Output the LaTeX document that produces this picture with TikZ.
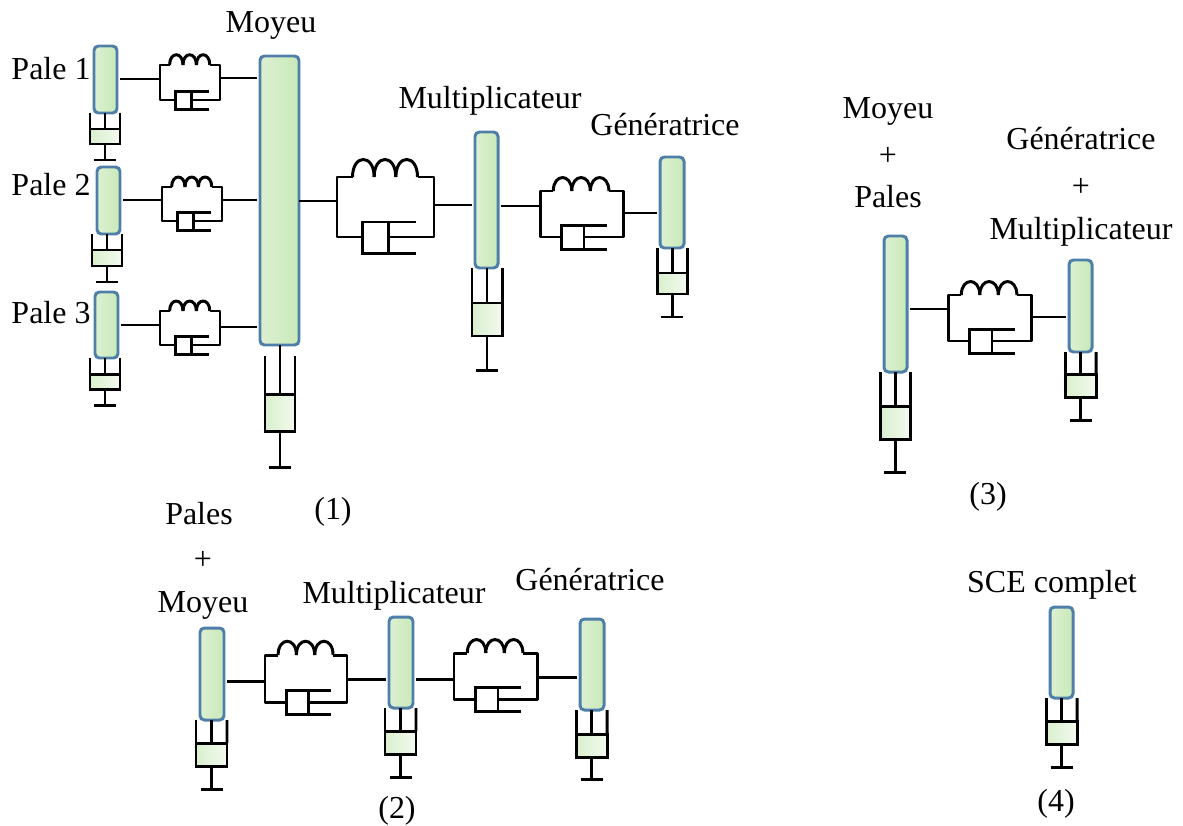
\documentclass[tikz,border=0pt]{standalone}
\usepackage{fontspec}
\setmainfont{Liberation Serif}
\usetikzlibrary{calc}

\definecolor{inertiaBlue}{HTML}{4F7FA8}
\definecolor{greenDark}{HTML}{C9E9B8}
\definecolor{greenMid}{HTML}{EDF7E7}
\definecolor{greenPale}{HTML}{DCF0D2}
\definecolor{pistonLeft}{HTML}{D9EFCD}
\definecolor{pistonMid}{HTML}{EAF6E4}
\definecolor{pistonRight}{HTML}{F3FAEF}

\tikzset{
	lbl/.style = {font = \fontsize{18.2}{22}\selectfont, inner sep = 0pt},
	shaft/.style = {line width = 1.7pt, black},
	gapstart/.style = {shaft, shorten < = 1.7pt},
	gapend/.style = {shaft, shorten > = 1.7pt},
	inertia/.style = {draw = inertiaBlue, line width = 1.7pt, rounded corners = 2.5pt, inner sep = 0pt, outer sep = 0pt, left color = greenPale, middle color = greenMid, right color = greenDark},
	pistonbox/.style = {draw = black, line width = 1.7pt, inner sep = 0pt, outer sep = 0pt, left color = pistonLeft, middle color = pistonMid, right color = pistonRight}
}

% inertia: name, left, top, right, bottom
\newcommand{\inertiaBar}[5]{
	\node (#1) [inertia, minimum width = {(#4 - #2) * 0.02cm}, minimum height = {(#5 - #3) * 0.02cm}] at ({(#2 + #4) / 2}, {(#3 + #5) / 2}) {};
}

% damper under an inertia: name, inertia, left, right, wall top, box top, box bottom, foot
\newcommand{\damperBox}[8]{
	\node (#1) [pistonbox, minimum width = {(#4 - #3) * 0.02cm}, minimum height = {(#7 - #6) * 0.02cm}] at ({(#3 + #4) / 2}, {(#6 + #7) / 2}) {};
	\coordinate (#1foot) at ($(#1.south) + (0,{#8 - #7})$);
	\draw [shaft] (#1.north west) -- (#3, #5);
	\draw [shaft] (#1.north east) -- (#4, #5);
	\draw [shaft] (#1.north) -- (#1.north |- #2.south);
	\draw [shaft] (#1.south) -- (#1foot);
	\draw [shaft] ($(#1foot) + (-11,0)$) -- ($(#1foot) + (11,0)$);
}

% spring and damper in parallel: name, left, right, top, bottom, y in, y out
\newcommand{\coupling}[7]{
	\coordinate (#1in) at (#2, #6);
	\coordinate (#1out) at (#3, #7);
	\begin{scope}[shift = {(#2, #4)}, xscale = {#3 - #2}, yscale = {#5 - #4}]
		\draw [shaft, line join = round] (0.16,0) -- (0,0) -- (0,1) -- (0.26,1);
		\draw [shaft, line join = round] (0.83,0) -- (1,0) -- (1,1) -- (0.53,1);
		\foreach \loopStart in {0.16, 0.383, 0.607} {
			\draw [shaft] (\loopStart,0) .. controls (\loopStart,-0.39) and ({\loopStart + 0.223},-0.39) .. ({\loopStart + 0.223},0);
		}
		\draw [shaft] (0.81,0.75) -- (0.26,0.75) -- (0.26,1.27) -- (0.81,1.27);
		\draw [shaft] (0.53,0.75) -- (0.53,1.27);
	\end{scope}
}

\begin{document}
\begin{tikzpicture}[x = 0.02cm, y = -0.02cm]

	\useasboundingbox (0,0) rectangle (1183,825);

	% (1) full model
	\inertiaBar{paleA}{94}{46}{117}{113}
	\inertiaBar{paleB}{97}{167}{120}{234}
	\inertiaBar{paleC}{95}{292}{118}{358}
	\inertiaBar{moyeu}{260}{56}{299}{345}
	\inertiaBar{multi}{475}{132}{498}{268}
	\inertiaBar{gene}{660}{157}{684}{248}

	\damperBox{dpaleA}{paleA}{90}{120}{113}{129}{144}{160}
	\damperBox{dpaleB}{paleB}{92}{122}{234}{250}{266}{282}
	\damperBox{dpaleC}{paleC}{90}{120}{358}{374}{389}{405}
	\damperBox{dmoyeu}{moyeu}{265}{295}{356}{394}{431}{467}
	\damperBox{dmulti}{multi}{472}{502}{268}{303}{336}{370}
	\damperBox{dgene}{gene}{657}{687}{248}{273}{294}{317}

	\coupling{cpA}{160}{220}{65}{100}{79}{78}
	\coupling{cpB}{162}{222}{187}{221}{200}{200}
	\coupling{cpC}{160}{220}{311}{345}{325}{327}
	\coupling{cmm}{337}{434}{177}{237}{201}{205}
	\coupling{cmg}{540}{623}{191}{237}{206}{213}

	\draw [gapstart] (cpAin -| paleA.east) -- (cpAin);
	\draw [gapend] (cpAout) -- (cpAout -| moyeu.west);
	\draw [gapstart] (cpBin -| paleB.east) -- (cpBin);
	\draw [gapend] (cpBout) -- (cpBout -| moyeu.west);
	\draw [gapstart] (cpCin -| paleC.east) -- (cpCin);
	\draw [gapend] (cpCout) -- (cpCout -| moyeu.west);
	\draw [shaft] (cmmin -| moyeu.east) -- (cmmin);
	\draw [gapend] (cmmout) -- (cmmout -| multi.west);
	\draw [gapstart] (cmgin -| multi.east) -- (cmgin);
	\draw [gapend] (cmgout) -- (cmgout -| gene.west);

	\node (tPaleA) [lbl] at (51,69) {Pale 1};
	\node (tPaleB) [lbl] at (51,185) {Pale 2};
	\node (tPaleC) [lbl] at (51,313) {Pale 3};
	\node (tMoyeu) [lbl] at (271,25) {Moyeu};
	\node (tMulti) [lbl] at (490,101) {Multiplicateur};
	\node (tGene) [lbl] at (665,125) {Génératrice};
	\node (tOne) [lbl] at (333,512) {(1)};

	% (2) blades and hub lumped
	\inertiaBar{bhub}{200}{628}{224}{720}
	\inertiaBar{bmulti}{389}{617}{413}{708}
	\inertiaBar{bgene}{580}{619}{604}{710}

	\damperBox{dbhub}{bhub}{196}{227}{720}{743}{766}{789}
	\damperBox{dbmulti}{bmulti}{385}{416}{708}{731}{754}{777}
	\damperBox{dbgene}{bgene}{576}{607}{710}{734}{757}{779}

	\coupling{cbm}{265}{347}{655}{702}{681}{679}
	\coupling{cbg}{454}{537}{653}{699}{679}{677}

	\draw [gapstart] (cbmin -| bhub.east) -- (cbmin);
	\draw [gapend] (cbmout) -- (cbmout -| bmulti.west);
	\draw [gapstart] (cbgin -| bmulti.east) -- (cbgin);
	\draw [gapend] (cbgout) -- (cbgout -| bgene.west);

	\node (tPales) [lbl] at (199,514) {Pales};
	\node (tPlusB) [lbl] at (203,560) {+};
	\node (tHubB) [lbl] at (203,605) {Moyeu};
	\node (tMultiB) [lbl] at (394,596) {Multiplicateur};
	\node (tGeneB) [lbl] at (590,580) {Génératrice};
	\node (tTwo) [lbl] at (397,811) {(2)};

	% (3) two inertias
	\inertiaBar{rotor}{884}{236}{907}{372}
	\inertiaBar{stator}{1069}{260}{1092}{352}

	\damperBox{drotor}{rotor}{880}{910}{372}{406}{439}{472}
	\damperBox{dstator}{stator}{1065}{1096}{352}{374}{397}{420}

	\coupling{crs}{948}{1031}{295}{341}{309}{317}

	\draw [gapstart] (crsin -| rotor.east) -- (crsin);
	\draw [gapend] (crsout) -- (crsout -| stator.west);

	\node (tHubC) [lbl] at (888,111) {Moyeu};
	\node (tPlusC) [lbl] at (888,156) {+};
	\node (tPalesC) [lbl] at (888,197) {Pales};
	\node (tGeneC) [lbl] at (1081,139) {Génératrice};
	\node (tPlusD) [lbl] at (1081,187) {+};
	\node (tMultiC) [lbl] at (1081,232) {Multiplicateur};
	\node (tThree) [lbl] at (988,497) {(3)};

	% (4) single inertia
	\inertiaBar{whole}{1050}{607}{1073}{698}
	\damperBox{dwhole}{whole}{1046}{1077}{698}{721}{744}{767}

	\node (tWhole) [lbl] at (1052,585) {SCE complet};
	\node (tFour) [lbl] at (1056,804) {(4)};

\end{tikzpicture}
\end{document}
